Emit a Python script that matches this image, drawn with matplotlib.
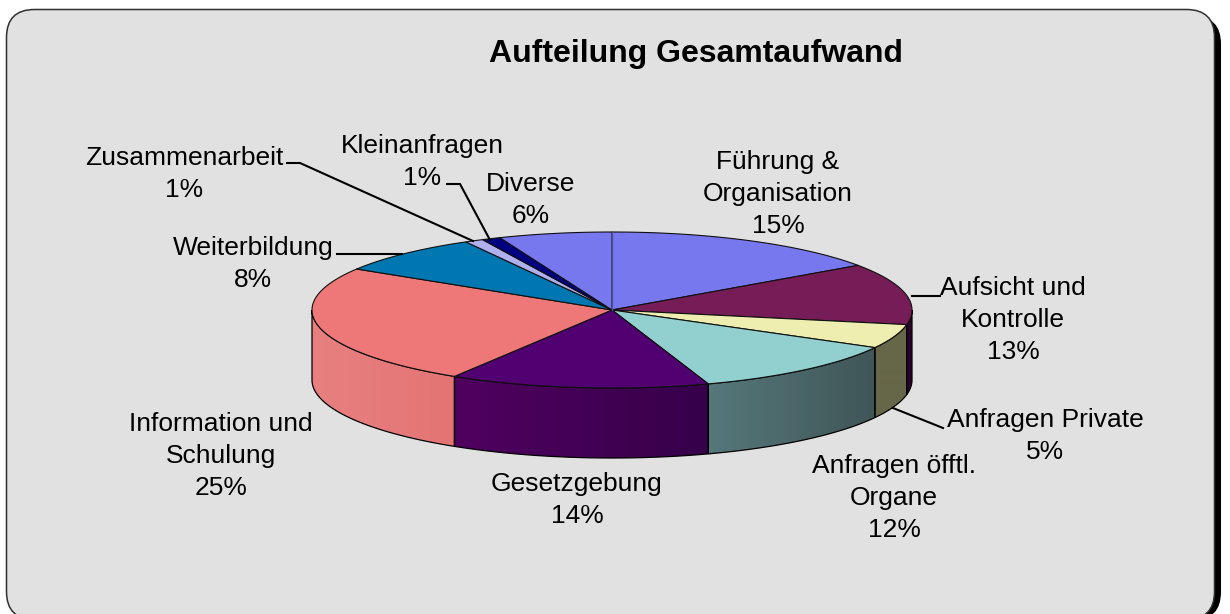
import matplotlib
matplotlib.use("Agg")
import matplotlib.pyplot as plt
from matplotlib.colors import LinearSegmentedColormap
from matplotlib.patches import FancyBboxPatch, Polygon
import numpy as np

plt.rcParams['font.family'] = ['Liberation Sans', 'DejaVu Sans']

labels = ["Führung &\nOrganisation", "Aufsicht und\nKontrolle", "Anfragen Private",
          "Anfragen öfftl.\nOrgane", "Gesetzgebung", "Information und\nSchulung",
          "Weiterbildung", "Zusammenarbeit", "Kleinanfragen", "Diverse"]
values = [15.3, 12.7, 5.0, 11.8, 14.0, 25.0, 8.1, 1.0, 1.0, 6.1]
top_colors = ["#7777EE", "#761C56", "#EEEEB0", "#92D0D0", "#500070",
              "#EE7777", "#0077B0", "#B0B0EE", "#000080", "#7777EE"]
side_left = ["#5A5AB0", "#300030", "#666648", "#56787A", "#500060",
             "#E88080", "#005580", "#8080B0", "#000060", "#5A5AB0"]
side_right = ["#5A5AB0", "#280028", "#666648", "#405658", "#36004A",
              "#E47474", "#005580", "#8080B0", "#000060", "#5A5AB0"]

# label centres and leader lines in pixels
label_pos = [(778, 194), (1013, 320), (1045, 436), (894, 498), (577, 500),
             (221, 456), (253, 264), (184, 174), (422, 162), (531, 200)]
leaders = {"Zusammenarbeit": ([287, 300, 473], [163, 163, 241]),
           "Kleinanfragen": ([447, 460, 490], [184, 184, 240]),
           "Weiterbildung": ([337, 402], [254, 254]),
           "Aufsicht": ([912, 940], [296, 296]),
           "Private": ([893, 943], [408, 428])}

cx, cy, rx, ry, depth = 612, 310, 300, 78, 70


def arc(t0, t1, dy=0):
    t = np.radians(np.linspace(t0, t1, max(int(abs(t1 - t0) * 2), 2)))
    return np.column_stack([cx + rx * np.sin(t), cy - ry * np.cos(t) + dy])


fig = plt.figure(figsize=(12.3, 6.14), dpi=100, facecolor="white")
ax = fig.add_axes([0, 0, 1, 1])
ax.axis("off")

# card + shadow
ax.add_patch(FancyBboxPatch((13, 16), 1208, 604, boxstyle="round,pad=0,rounding_size=28",
                            fc="black", ec="none", zorder=1))
ax.add_patch(FancyBboxPatch((6.5, 9.5), 1208, 610, boxstyle="round,pad=0,rounding_size=28",
                            fc="#E1E1E1", ec="#303030", lw=1.1, zorder=2))

edges = np.cumsum([0] + values) / sum(values) * 360

# side wall, only the front half shows
for i in range(len(values)):
    t0, t1 = max(edges[i], 90), min(edges[i + 1], 270)
    if t1 <= t0:
        continue
    outline = np.vstack([arc(t0, t1), arc(t1, t0, depth)])
    cmap = LinearSegmentedColormap.from_list("side", [side_left[i], side_right[i]])
    im = ax.imshow(np.linspace(0, 1, 64).reshape(1, -1), cmap=cmap, aspect="auto", zorder=3,
                   extent=(outline[:, 0].min(), outline[:, 0].max(),
                           outline[:, 1].max(), outline[:, 1].min()))
    ax.add_patch(Polygon(outline, closed=True, fc="none", ec="black", lw=0.9, zorder=4))
    im.set_clip_path(Polygon(outline, closed=True, transform=ax.transData))

# top face
for i in range(len(values)):
    pts = np.vstack([[cx, cy], arc(edges[i], edges[i + 1])])
    ax.add_patch(Polygon(pts, closed=True, fc=top_colors[i], ec="#101010", lw=0.8, zorder=5))
ax.plot([cx, cx], [cy, cy - ry], color="#50509A", lw=1.0, zorder=6)

for x, y in leaders.values():
    ax.plot(x, y, color="black", lw=1.5, zorder=7, solid_joinstyle="miter")

ax.text(696, 54, "Aufteilung Gesamtaufwand", fontsize=23, fontweight="bold",
        ha="center", va="center", zorder=8)

for name, v, (x, y) in zip(labels, values, label_pos):
    ax.text(x, y, f"{name}\n{v:.0f}%", fontsize=19, ha="center", va="center",
            linespacing=1.4, zorder=8)

ax.set_xlim(0, 1230)
ax.set_ylim(614, 0)
fig.savefig("out.png", dpi=100)
